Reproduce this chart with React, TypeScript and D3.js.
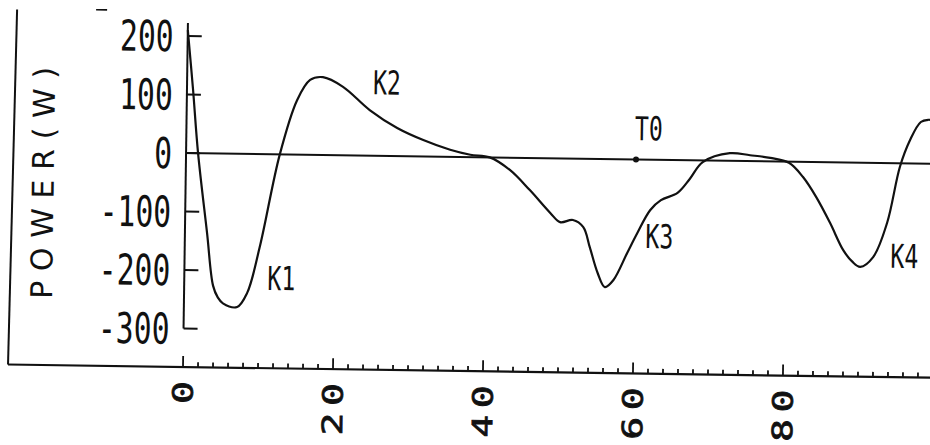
import React from "react";
import * as d3 from "d3";

const TIME = [
  0, 0.8, 1.6, 2.95, 3.85, 4.5, 5.2, 7.1, 8.4, 10.0, 12.5, 14.7, 16.4, 18.1, 20.8,
  24.4, 28.1, 31.6, 35.2, 37.9, 40.5, 43.2, 45.9, 48.7, 50.0, 51.7, 53.1, 54.0,
  55.1, 56.1, 57.2, 59.0, 60.3, 62.0, 63.4, 65.6, 67.2, 68.9, 72.5, 75.2, 77.9,
  80.4, 82.3, 84.1, 86.0, 87.8, 89.0, 90.1, 91.8, 93.6, 95.2, 96.5, 97.9, 98.9, 99.6,
];
const POWER = [
  210, 110, 0, -136, -226, -246, -256, -262, -238, -159, 0, 93, 128, 133, 117, 78, 48,
  28, 12, 4, 0, -21, -55, -94, -109, -105, -117, -151, -195, -219, -207, -160,
  -126, -86, -69, -56, -32, -3, 13, 10, 6, -2, -26, -60, -104, -150, -169, -178, -161,
  -102, -6, 40, 71, 75, 74,
];

const Y_TICKS = [200, 100, 0, -100, -200, -300];
const X_TICKS = [0, 20, 40, 60, 80];
const X_MINOR = d3.range(0, 100, 2);

const LABEL_TEXT = ["K1", "K2", "K3", "K4", "T0"];
const LABEL_T = [11.1, 24.8, 61.4, 94.1, 59.8];
const LABEL_P = [-232, 105, -151, -179, 33];
const MARKER_T = [60];

const Y_TITLE = "POWER(W)";

export default function App() {
  const x = d3.scaleLinear().domain([0, 100]).range([183, 933]);
  const y = d3.scaleLinear().domain([-300, 200]).range([328.5, 36]);
  const line = d3
    .line<number>()
    .x((_, i) => x(TIME[i]))
    .y((d) => y(d))
    .curve(d3.curveCatmullRom.alpha(0.5));

  const ink = "#111";
  const mono = "'DejaVu Sans Mono', monospace";
  const x0 = x(0);
  const baseY = 367;

  return (
    <svg
      width={930}
      height={445}
      style={{ position: "absolute", left: 0, top: 0, background: "#fff" }}
    >
      <rect width={930} height={445} fill="#fff" />
      <g transform={`rotate(0.82, ${x0}, ${baseY})`}>
        {/* outer frame */}
        <line x1={12} y1={12} x2={8} y2={baseY} stroke={ink} strokeWidth={2} />
        <line x1={8} y1={baseY} x2={940} y2={baseY} stroke={ink} strokeWidth={2.2} />
        <line x1={91} y1={11} x2={102} y2={11} stroke={ink} strokeWidth={1.6} />

        {/* x ticks */}
        {X_MINOR.filter((t) => t % 20 !== 0).map((t) => (
          <line key={"m" + t} x1={x(t)} x2={x(t)} y1={baseY} y2={baseY - 5} stroke={ink} strokeWidth={1.8} />
        ))}
        {X_TICKS.map((t) => (
          <line key={"M" + t} x1={x(t)} x2={x(t)} y1={baseY} y2={baseY - 11} stroke={ink} strokeWidth={1.8} />
        ))}
        {X_TICKS.map((t) => (
          <g key={"xl" + t} transform={`translate(${x(t)}, 381) rotate(-90) scale(1.35,1)`}>
            <text
              x={0}
              y={10}
              textAnchor="end"
              fontFamily={mono}
              fontSize={28}
              letterSpacing={5}
              dx={5}
              fill={ink}
              stroke={ink}
              strokeWidth={0.7}
            >
              {String(t)}
            </text>
          </g>
        ))}

        {/* y axis */}
        <line x1={x0} x2={x0} y1={23} y2={y(-300)} stroke={ink} strokeWidth={2} />
        {Y_TICKS.map((v) => (
          <line key={"yt" + v} x1={x0} x2={x0 + 14} y1={y(v)} y2={y(v)} stroke={ink} strokeWidth={2} />
        ))}
        {Y_TICKS.map((v) => (
          <g key={"yl" + v} transform={`translate(169, ${y(v) + 15.5}) scale(0.7,1)`}>
            <text x={0} y={0} textAnchor="end" fontFamily={mono} fontSize={42.5} fill={ink}>
              {String(v)}
            </text>
          </g>
        ))}

        {/* y title */}
        <text
          transform={`translate(51, 185) rotate(-90)`}
          textAnchor="middle"
          fontFamily="'DejaVu Sans', sans-serif"
          fontSize={30}
          fill={ink}
          textLength={232}
          lengthAdjust="spacing"
        >
          {Y_TITLE}
        </text>

        {/* zero reference line */}
        <line x1={x0} x2={940} y1={y(0)} y2={y(0)} stroke={ink} strokeWidth={2} />
        {MARKER_T.map((t) => (
          <circle key={"mk" + t} cx={x(t)} cy={y(0)} r={3} fill={ink} />
        ))}

        {/* power trace */}
        <path d={line(POWER) || ""} fill="none" stroke={ink} strokeWidth={2.2} strokeLinejoin="round" />

        {/* annotations */}
        {LABEL_TEXT.map((s, i) => (
          <g key={s} transform={`translate(${x(LABEL_T[i])}, ${y(LABEL_P[i])}) scale(0.7,1)`}>
            <text x={0} y={0} fontFamily={mono} fontSize={33} fill={ink}>
              {s}
            </text>
          </g>
        ))}
      </g>
    </svg>
  );
}
